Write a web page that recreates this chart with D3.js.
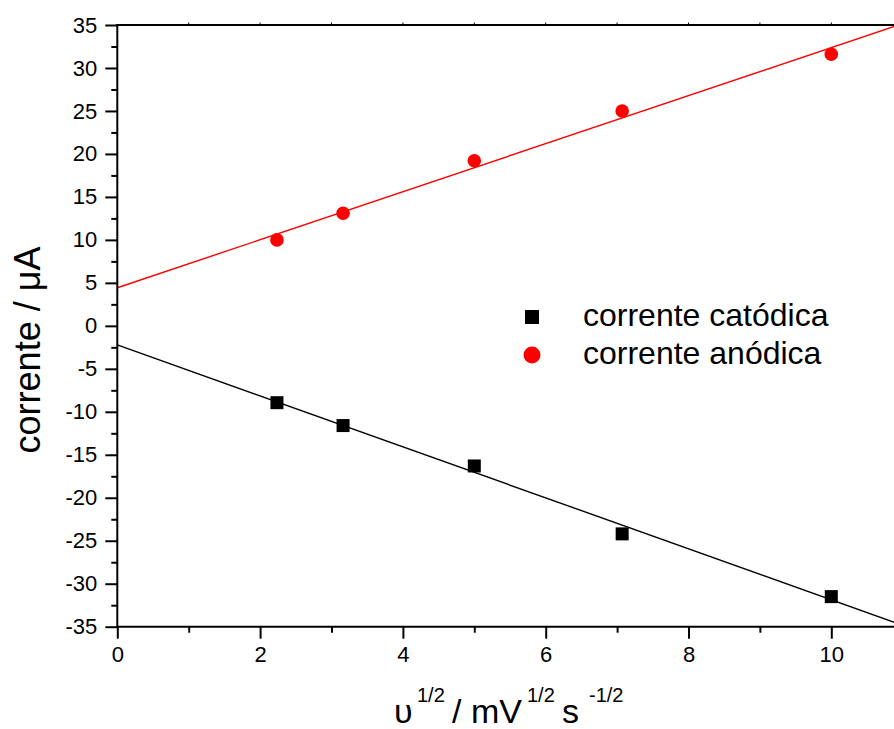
<!DOCTYPE html>
<html><head><meta charset="utf-8">
<script src="https://cdn.jsdelivr.net/npm/d3@7/dist/d3.min.js"></script>
<style>body{margin:0;background:#fff}svg{display:block;font-family:"Liberation Sans",Arial,sans-serif}</style>
</head><body><svg id="c" width="894" height="729"></svg>
<script>
const xValues = [2.236, 3.162, 5.0, 7.071, 10.0];
const catodica = [-8.94, -11.6, -16.3, -24.2, -31.5];
const anodica = [10.0, 13.1, 19.2, 25.0, 31.6];
const seriesNames = ["corrente catódica", "corrente anódica"];
const yTicks = [-35,-30,-25,-20,-15,-10,-5,0,5,10,15,20,25,30,35];
const xTicks = [0,2,4,6,8,10];

const svg = d3.select("#c");
const L = 117.3, T = 25, B = 626.7;
const x = d3.scaleLinear().domain([0, 11]).range([L, L + 11 * 71.4]);
const y = d3.scaleLinear().domain([-35, 35]).range([B, T]);
const W = 894;

svg.append("defs").append("clipPath").attr("id","clip")
  .append("rect").attr("x", L).attr("y", T).attr("width", W - L).attr("height", B - T);

function fit(xs, ys) {
  const n = xs.length, mx = d3.mean(xs), my = d3.mean(ys);
  let sxx = 0, sxy = 0;
  for (let i = 0; i < n; i++) { sxx += (xs[i]-mx)**2; sxy += (xs[i]-mx)*(ys[i]-my); }
  const b = sxy / sxx; return { a: my - b * mx, b };
}

// fit lines
const g = svg.append("g").attr("clip-path", "url(#clip)");
[[catodica, "#000"], [anodica, "#ff0000"]].forEach(([ys, col]) => {
  const f = fit(xValues, ys);
  const dom = x.domain();
  g.append("line")
    .attr("x1", x(dom[0])).attr("y1", y(f.a + f.b * dom[0]))
    .attr("x2", x(dom[1])).attr("y2", y(f.a + f.b * dom[1]))
    .attr("stroke", col).attr("stroke-width", 1.4);
});

// markers
const pts = xValues.map((v, i) => ({ x: v, c: catodica[i], a: anodica[i] }));
svg.selectAll(".sq").data(pts).enter().append("rect")
  .attr("x", d => x(d.x) - 6.5).attr("y", d => y(d.c) - 6.5)
  .attr("width", 13).attr("height", 13).attr("fill", "#000");
svg.selectAll(".ci").data(pts).enter().append("circle")
  .attr("cx", d => x(d.x)).attr("cy", d => y(d.a)).attr("r", 6.8).attr("fill", "#ff0000");

// axes
const fmt = d => String(d);
const yAxis = d3.axisLeft(y).tickValues(yTicks).tickSize(12).tickPadding(8).tickFormat(fmt);
const yMinor = d3.axisLeft(y).tickValues(d3.range(-32.5, 35, 5)).tickSize(6).tickFormat("");
const xAxis = d3.axisBottom(x).tickValues(xTicks).tickSize(12).tickPadding(8).tickFormat(fmt);
const xMinor = d3.axisBottom(x).tickValues([1,3,5,7,9,11]).tickSize(6).tickFormat("");

function style(sel) {
  sel.select(".domain").remove();
  sel.selectAll("line").attr("stroke", "#000").attr("stroke-width", 2);
  sel.selectAll("text").attr("font-size", "22px").attr("fill", "#000").attr("font-family", '"Liberation Sans",Arial,sans-serif');
}
svg.append("g").attr("transform", `translate(${L},0)`).call(yAxis).call(style);
svg.append("g").attr("transform", `translate(${L},0)`).call(yMinor).call(style);
svg.append("g").attr("transform", `translate(0,${B})`).call(xAxis).call(style);
svg.append("g").attr("transform", `translate(0,${B})`).call(xMinor).call(style);

// frame lines
svg.append("line").attr("x1", L).attr("x2", L).attr("y1", T - 1).attr("y2", B + 1).attr("stroke", "#000").attr("stroke-width", 2);
svg.append("line").attr("x1", L - 1).attr("x2", W).attr("y1", B).attr("y2", B).attr("stroke", "#000").attr("stroke-width", 2);
svg.append("line").attr("x1", L - 1).attr("x2", W).attr("y1", T).attr("y2", T).attr("stroke", "#000").attr("stroke-width", 2);
// tiny top ticks
svg.selectAll(".tt").data(d3.range(1, 11)).enter().append("line")
  .attr("x1", d => x(d)).attr("x2", d => x(d)).attr("y1", T).attr("y2", T - 2.5)
  .attr("stroke", "#000").attr("stroke-width", 1);

// y label
svg.append("text").attr("transform", "translate(40,350) rotate(-90)")
  .attr("text-anchor", "middle").attr("font-size", "36px").attr("fill", "#000")
  .text("corrente / μA");

// x label
const xl = svg.append("g").attr("fill", "#000");
const base = 723, sup = 702;
xl.append("text").attr("x", 394).attr("y", base).attr("font-size", "34px").text("υ");
xl.append("text").attr("x", 417).attr("y", sup).attr("font-size", "20px").text("1/2");
xl.append("text").attr("x", 452).attr("y", base).attr("font-size", "34px").text("/ mV");
xl.append("text").attr("x", 527).attr("y", sup).attr("font-size", "20px").text("1/2");
xl.append("text").attr("x", 562).attr("y", base).attr("font-size", "34px").text("s");
xl.append("text").attr("x", 589).attr("y", sup).attr("font-size", "20px").text("-1/2");

// legend
const lg = svg.append("g");
lg.append("rect").attr("x", 525).attr("y", 310).attr("width", 14).attr("height", 14).attr("fill", "#000");
lg.append("circle").attr("cx", 532).attr("cy", 355).attr("r", 8.5).attr("fill", "#ff0000");
lg.selectAll(".lt").data(seriesNames).enter().append("text")
  .attr("x", 583).attr("y", (d, i) => 326 + i * 38).attr("font-size", "32px").attr("fill", "#000").text(d => d);
</script></body></html>
